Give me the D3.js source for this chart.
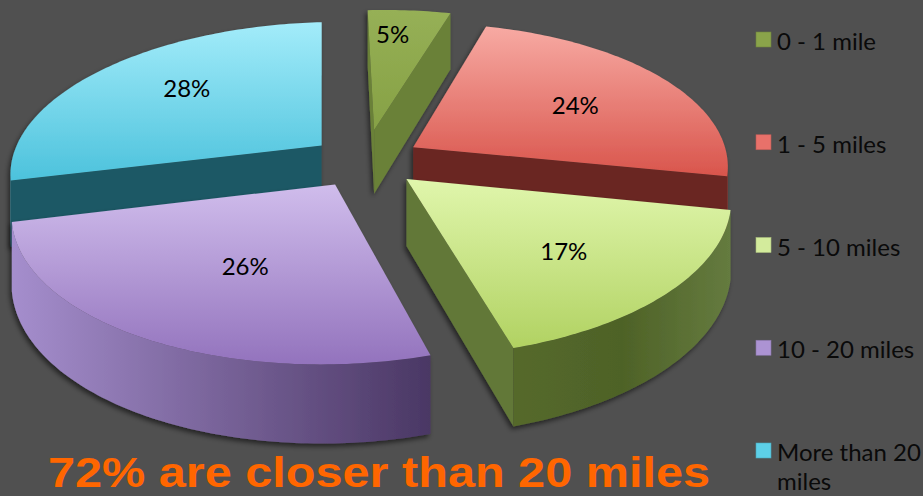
<!DOCTYPE html>
<html>
<head>
<meta charset="utf-8">
<script src="https://cdn.jsdelivr.net/npm/d3@7"></script>
<style>
  body { margin: 0; background: #505050; }
  svg { display: block; }
</style>
</head>
<body>
<div id="chart"></div>
<script>
const categories = ["0 - 1 mile", "1 - 5 miles", "5 - 10 miles", "10 - 20 miles", "More than 20 miles"];
const values = [5, 24, 17, 26, 28];
const legendLines = [["0 - 1 mile"], ["1 - 5 miles"], ["5 - 10 miles"], ["10 - 20 miles"], ["More than 20", "miles"]];
const title = "72% are closer than 20 miles";

const width = 923, height = 496;

// view of the 3d pie (pie radius = 1, depth runs 0..1)
const cx = 365, cy = 161, F = 313, ky = 0.466, kh = 0.21, persp = 0.147, tilt = 0.025, lean = 0.02;
const explode = [0.22, 0.18, 0.18, 0.18, 0.18];
// label placement on the top face: radius and angle nudge (degrees)
const labelR = [0.775, 0.62, 0.645, 0.55, 0.65];
const labelTurn = [-2.6, 2.7, 2, -3.8, 4.5];

const topColors = [["#96b056", "#86a145"], ["#f7aaa3", "#d9554c"], ["#e0f6ac", "#b1d262"], ["#d0bdec", "#9373bd"], ["#a3ecfa", "#4cc2dc"]];
const wallColors = ["#6b8139", "#6a2824", "#627839", "#4d3a6a", "#1f5965"];
const outerColors = [["#6b8139", "#4e6126"], ["#a03a33", "#6a2824"], ["#55692c", "#4e6227", "#657b3f"], ["#a58ecd", "#4a3764"], ["#3fa5bd", "#1f5965"]];
const legendColors = ["#8aa44a", "#e8716a", "#d3eb9c", "#ac93d3", "#5dd0e8"];

const svg = d3.select("#chart").append("svg")
    .attr("width", width)
    .attr("height", height);

const defs = svg.append("defs");

const shadow = defs.append("filter").attr("id", "shadow")
    .attr("x", "-10%").attr("y", "-10%").attr("width", "120%").attr("height", "120%");
shadow.append("feDropShadow")
    .attr("dx", -2).attr("dy", 3).attr("stdDeviation", 2.5)
    .attr("flood-color", "#000").attr("flood-opacity", 0.55);

topColors.forEach((c, i) => {
    const g = defs.append("linearGradient").attr("id", "top" + i)
        .attr("x1", 0).attr("y1", 0).attr("x2", 0).attr("y2", 1);
    g.append("stop").attr("offset", "0%").attr("stop-color", c[0]);
    g.append("stop").attr("offset", "100%").attr("stop-color", c[1]);
});
outerColors.forEach((c, i) => {
    const g = defs.append("linearGradient").attr("id", "outer" + i)
        .attr("x1", 0).attr("y1", 0).attr("x2", 1).attr("y2", 0);
    c.forEach((col, k) => g.append("stop")
        .attr("offset", (k / (c.length - 1) * 100) + "%").attr("stop-color", col));
});

const pie = d3.pie().sort(null).value(d => d);
const arcs = pie(values);

function project(i, d, r, a, y) {
    const m = (d.startAngle + d.endAngle) / 2;
    const X = r * Math.sin(a) + explode[i] * Math.sin(m);
    const Z = r * Math.cos(a) + explode[i] * Math.cos(m);
    const w = 1 + persp * Z;
    return [cx + F * (X - lean * Z) / w, cy + F * (-ky * Z + kh * y - tilt * X) / w];
}

function area(pts) {
    let s = 0;
    for (let k = 0; k < pts.length; k++) {
        const p = pts[k], q = pts[(k + 1) % pts.length];
        s += p[0] * q[1] - q[0] * p[1];
    }
    return s / 2;
}

const line = d3.line();
const closed = pts => line(pts) + "Z";

// back slices first
const order = d3.range(arcs.length)
    .sort((a, b) => Math.cos((arcs[b].startAngle + arcs[b].endAngle) / 2) - Math.cos((arcs[a].startAngle + arcs[a].endAngle) / 2));

const slices = svg.append("g");

order.forEach(i => {
    const d = arcs[i];
    const g = slices.append("g").attr("filter", "url(#shadow)");
    const n = Math.max(2, Math.ceil((d.endAngle - d.startAngle) / (Math.PI / 180)));
    const angs = d3.range(n + 1).map(k => d.startAngle + (d.endAngle - d.startAngle) * k / n);
    const topArc = angs.map(a => project(i, d, 1, a, 0));
    const botArc = angs.map(a => project(i, d, 1, a, 1));
    const c0 = project(i, d, 0, 0, 0), c1 = project(i, d, 0, 0, 1);

    // radial walls
    const startWall = [c0, topArc[0], botArc[0], c1];
    const endWall = [topArc[n], c0, c1, botArc[n]];
    [startWall, endWall].forEach(w => {
        if (area(w) < 0) g.append("path").attr("d", closed(w)).attr("fill", wallColors[i]);
    });

    // outer curved wall, only the runs facing us
    let run = [];
    const runs = [];
    for (let k = 0; k < n; k++) {
        const quad = [topArc[k], topArc[k + 1], botArc[k + 1], botArc[k]];
        if (area(quad) < 0) {
            if (!run.length) run.push(k);
            run[1] = k + 1;
        } else if (run.length) { runs.push(run); run = []; }
    }
    if (run.length) runs.push(run);
    runs.forEach(([k0, k1]) => {
        const pts = topArc.slice(k0, k1 + 1).concat(botArc.slice(k0, k1 + 1).reverse());
        g.append("path").attr("d", closed(pts)).attr("fill", `url(#outer${i})`);
    });

    // top face
    g.append("path").attr("d", closed([c0].concat(topArc))).attr("fill", `url(#top${i})`);
});

// percentage labels
const labels = svg.append("g")
    .attr("font-family", "Lato, 'Open Sans', sans-serif")
    .attr("font-size", 24)
    .attr("fill", "#000")
    .attr("text-anchor", "middle");

arcs.forEach((d, i) => {
    const m = (d.startAngle + d.endAngle) / 2 + labelTurn[i] * Math.PI / 180;
    const p = project(i, d, labelR[i], m, 0);
    labels.append("text")
        .attr("x", p[0]).attr("y", p[1]).attr("dy", "0.35em")
        .text(values[i] + "%");
});

// legend
const legendY = d3.scalePoint().domain(categories).range([32, 443]);
const legend = svg.append("g")
    .attr("font-family", "Lato, 'Open Sans', sans-serif")
    .attr("font-size", 24)
    .attr("fill", "#0a0a0a");

categories.forEach((c, i) => {
    const y = legendY(c);
    legend.append("rect")
        .attr("x", 756).attr("y", y).attr("width", 15).attr("height", 15)
        .attr("fill", legendColors[i])
        .attr("stroke", d3.color(legendColors[i]).darker(0.6)).attr("stroke-width", 0.6);
    const t = legend.append("text").attr("x", 777).attr("y", y + 18);
    legendLines[i].forEach((s, k) => {
        t.append("tspan").attr("x", 777).attr("dy", k ? 29 : 0).text(s);
    });
});

// headline
svg.append("text")
    .attr("x", 48).attr("y", 487)
    .attr("font-family", "'Liberation Sans', Arial, sans-serif")
    .attr("font-weight", "bold")
    .attr("font-size", 42)
    .attr("fill", "#ff6600")
    .attr("textLength", 662)
    .attr("lengthAdjust", "spacingAndGlyphs")
    .text(title);
</script>
</body>
</html>
